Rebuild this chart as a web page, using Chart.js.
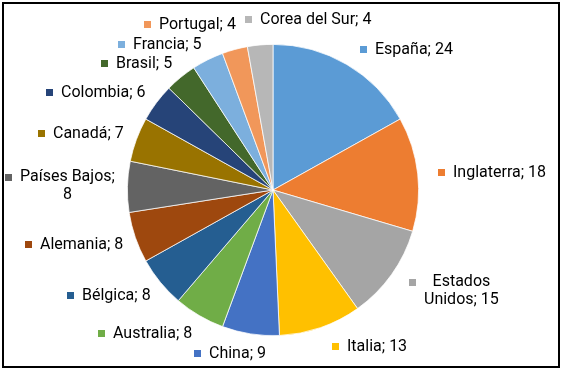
<!DOCTYPE html>
<html><head><meta charset="utf-8">
<script src="https://cdn.jsdelivr.net/npm/chart.js@4.4.1/dist/chart.umd.min.js"></script>
<style>html,body{margin:0;padding:0;background:#fff}#wrap{width:562px;height:370px;position:relative}</style>
</head><body><div id="wrap"><canvas id="c" width="562" height="370"></canvas></div>
<script>
const categories = ['España','Inglaterra','Estados Unidos','Italia','China','Australia','Bélgica','Alemania','Países Bajos','Canadá','Colombia','Brasil','Francia','Portugal','Corea del Sur'];
const values = [24,18,15,13,9,8,8,8,8,7,6,5,5,4,4];
const colors = ['#5B9BD5','#ED7D31','#A5A5A5','#FFC000','#4472C4','#70AD47','#255E91','#9E480E','#636363','#997300','#264478','#43682B','#7CAFDD','#F1975A','#B7B7B7'];

function wrapText(ctx, text, maxW){
  const words = text.split(' ');
  const lines = [];
  let cur = '';
  words.forEach(w=>{
    const t = cur ? cur + ' ' + w : w;
    if (cur && ctx.measureText(t).width > maxW){ lines.push(cur); cur = w; }
    else cur = t;
  });
  if (cur) lines.push(cur);
  return lines;
}

const framePlugin = {
  id:'frame',
  beforeDraw(chart){
    const ctx = chart.ctx;
    ctx.save();
    ctx.fillStyle = '#fff';
    ctx.fillRect(0,0,chart.width,chart.height);
    ctx.restore();
  },
  afterDraw(chart){
    const ctx = chart.ctx;
    ctx.save();
    ctx.strokeStyle = '#000';
    ctx.lineWidth = 2;
    ctx.strokeRect(3,3,chart.width-6,chart.height-6);
    ctx.restore();
  }
};

const labelPlugin = {
  id:'outLabels',
  afterDatasetsDraw(chart){
    const ctx = chart.ctx;
    const meta = chart.getDatasetMeta(0);
    ctx.save();
    ctx.font = '16px Roboto';
    ctx.textBaseline = 'middle';
    const ms = 7, gap = 8, lhMulti = 18, lhSingle = 17;
    const boxes = [];
    meta.data.forEach((arc,i)=>{
      const p = arc.getProps(['x','y','startAngle','endAngle','outerRadius'], true);
      const mid = (p.startAngle + p.endAngle)/2;
      const ux = Math.cos(mid), uy = Math.sin(mid);
      const R = p.outerRadius + 13;
      const px = p.x + ux*R + (ux > 0.25 ? 7 : 0);
      const py = p.y + uy*R;
      const text = categories[i] + '; ' + values[i];
      const maxW = Math.abs(ux) < 0.3 ? Infinity : 100;
      const lines = wrapText(ctx, text, maxW);
      const tw = Math.max(...lines.map(l=>ctx.measureText(l).width));
      const lh = lines.length > 1 ? lhMulti : lhSingle;
      const w = ms + gap + tw, h = lines.length*lh;
      const f = Math.max(-1, Math.min(1, 3.4*ux));
      const k = uy < -0.95 ? 1.5 : (uy < 0 ? 0.5 : 0.85);
      const bcx = px + f*w/2;
      const bcy = py + k*uy*h/2;
      const box = {i, lines, tw, lh, w, h, left: bcx - w/2, top: bcy - h/2, uy};
      boxes.forEach(b=>{
        const ox = Math.min(box.left+box.w, b.left+b.w) - Math.max(box.left, b.left);
        const oy = Math.min(box.top+box.h, b.top+b.h) - Math.max(box.top, b.top);
        if (ox > 0 && oy > 0){
          if (Math.abs(box.uy) > 0.95 && Math.abs(b.uy) > 0.95){
            if (box.left + box.w/2 >= b.left + b.w/2) box.left = b.left + b.w + 9;
            else box.left = b.left - 9 - box.w;
          } else {
            const s = (oy + 1)/2;
            if (box.top >= b.top){ box.top += s; b.top -= s; }
            else { box.top -= s; b.top += s; }
          }
        }
      });
      boxes.push(box);
    });
    boxes.forEach(b=>{
      const left = Math.round(b.left), top = Math.round(b.top);
      ctx.fillStyle = colors[b.i];
      ctx.fillRect(left, top + Math.round(b.lh/2 - ms/2), ms, ms);
      ctx.fillStyle = '#000';
      ctx.textAlign = 'center';
      const tcx = left + ms + gap + b.tw/2;
      b.lines.forEach((l,j)=> ctx.fillText(l, tcx, top + b.lh/2 + j*b.lh));
    });
    ctx.restore();
  }
};

new Chart(document.getElementById('c'), {
  type:'pie',
  data:{
    labels: categories,
    datasets:[{ data: values, backgroundColor: colors, borderColor:'#fff', borderWidth:0.75 }]
  },
  options:{
    responsive:false,
    animation:false,
    layout:{ padding:{ top:44, bottom:34, left:127, right:143 } },
    plugins:{ legend:{display:false}, tooltip:{enabled:false} }
  },
  plugins:[framePlugin, labelPlugin]
});
</script>
</body></html>
